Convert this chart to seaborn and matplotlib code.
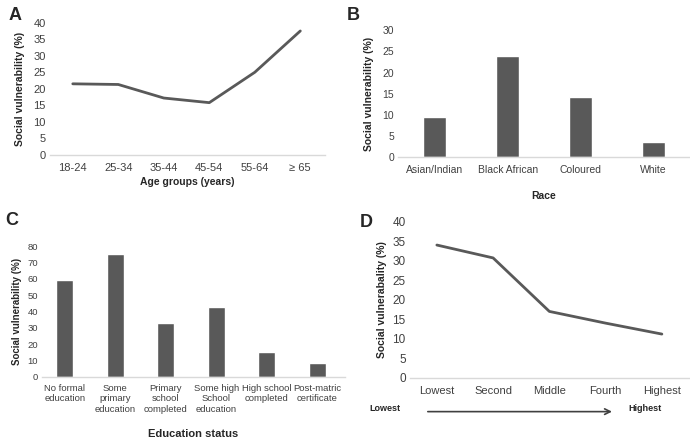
import matplotlib
matplotlib.use('Agg')
import matplotlib.pyplot as plt
import seaborn as sns
import pandas as pd

# data
age_groups = ['18-24', '25-34', '35-44', '45-54', '55-64', '≥ 65']
age_vuln = [21.5, 21.3, 17.2, 15.8, 25.0, 37.5]

races = ['Asian/Indian', 'Black African', 'Coloured', 'White']
race_vuln = [9.6, 24.0, 14.1, 3.6]

education = ['No formal\neducation', 'Some\nprimary\neducation', 'Primary\nschool\ncompleted',
             'Some high\nSchool\neducation', 'High school\ncompleted', 'Post-matric\ncertificate']
edu_vuln = [59, 75, 33, 42.5, 15.5, 8.5]

quintiles = ['Lowest', 'Second', 'Middle', 'Fourth', 'Highest']
quint_vuln = [34.0, 30.7, 17.0, 14.0, 11.2]

sns.set_style('white')
plt.rcParams['font.family'] = ['Liberation Sans', 'DejaVu Sans']

dark = '#595959'
tick_col = '#404040'

fig = plt.figure(figsize=(6.9, 4.45), dpi=100)

def style(ax, tick_size=7.5):
    for s in ['top', 'right', 'left']:
        ax.spines[s].set_visible(False)
    ax.spines['bottom'].set_color('#d9d9d9')
    ax.spines['bottom'].set_linewidth(1)
    ax.tick_params(axis='both', length=0, labelsize=tick_size, colors=tick_col, pad=3)

# Panel A
axA = fig.add_axes([0.0725, 0.652, 0.399, 0.297])
dfA = pd.DataFrame({'age': age_groups, 'v': age_vuln})
sns.lineplot(data=dfA, x='age', y='v', ax=axA, color=dark, linewidth=2, sort=False)
axA.set_ylim(0, 40)
axA.set_yticks(range(0, 41, 5))
axA.set_xlim(-0.5, 5.55)
axA.set_xlabel('Age groups (years)', fontsize=7.5, fontweight='bold', labelpad=3)
axA.set_ylabel('Social vulnerability (%)', fontsize=7.5, fontweight='bold', labelpad=6)
style(axA, tick_size=8)
axA.tick_params(axis='x', pad=6)
fig.text(0.012, 0.955, 'A', fontsize=13, fontweight='bold')

# Panel B
axB = fig.add_axes([0.577, 0.647, 0.423, 0.285])
dfB = pd.DataFrame({'race': races, 'v': race_vuln})
sns.barplot(data=dfB, x='race', y='v', ax=axB, color=dark, width=0.31, saturation=1)
axB.set_ylim(0, 30)
axB.set_yticks(range(0, 31, 5))
axB.set_xlabel('Race', fontsize=7.5, fontweight='bold', labelpad=11)
axB.set_ylabel('Social vulnerability (%)', fontsize=7.5, fontweight='bold', labelpad=6)
style(axB, tick_size=7.5)
axB.tick_params(axis='x', pad=6)
fig.text(0.503, 0.955, 'B', fontsize=13, fontweight='bold')

# Panel C
axC = fig.add_axes([0.061, 0.153, 0.439, 0.294])
dfC = pd.DataFrame({'edu': education, 'v': edu_vuln})
sns.barplot(data=dfC, x='edu', y='v', ax=axC, color=dark, width=0.33, saturation=1)
axC.set_ylim(0, 80)
axC.set_yticks(range(0, 81, 10))
axC.set_xlim(-0.45, 5.55)
axC.set_xlabel('Education status', fontsize=8, fontweight='bold', labelpad=11)
axC.set_ylabel('Social vulnerability (%)', fontsize=7, fontweight='bold', labelpad=4)
style(axC, tick_size=6.8)
axC.tick_params(axis='x', pad=5)
fig.text(0.007, 0.495, 'C', fontsize=13, fontweight='bold')

# Panel D
axD = fig.add_axes([0.594, 0.151, 0.406, 0.351])
dfD = pd.DataFrame({'q': quintiles, 'v': quint_vuln})
sns.lineplot(data=dfD, x='q', y='v', ax=axD, color=dark, linewidth=2, sort=False)
axD.set_ylim(0, 40)
axD.set_yticks(range(0, 41, 5))
axD.set_xlim(-0.48, 4.5)
axD.set_xlabel('')
axD.set_ylabel('Social vulnerabality (%)', fontsize=7.5, fontweight='bold', labelpad=4)
style(axD, tick_size=8)
axD.tick_params(axis='y', labelsize=8.5)
axD.tick_params(axis='x', pad=6)
fig.text(0.522, 0.49, 'D', fontsize=13, fontweight='bold')

fig.text(0.558, 0.081, 'Lowest', fontsize=6.5, fontweight='bold', ha='center', va='center')
fig.text(0.935, 0.083, 'Highest', fontsize=6.5, fontweight='bold', ha='center', va='center')
fig.add_artist(matplotlib.patches.FancyArrowPatch((0.616, 0.075), (0.891, 0.075),
               transform=fig.transFigure, arrowstyle='->', mutation_scale=10,
               color='#404040', linewidth=1.2))

fig.savefig('out.png', dpi=100)
